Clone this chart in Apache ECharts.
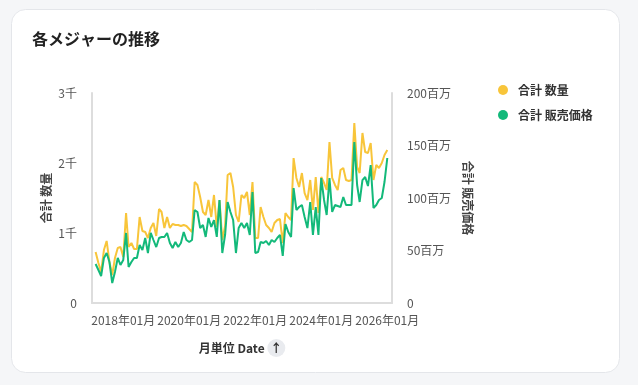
<!DOCTYPE html>
<html><head><meta charset="utf-8">
<script src="https://cdn.jsdelivr.net/npm/echarts@6/dist/echarts.min.js"></script>
<style>html,body{margin:0;padding:0;background:#f5f6f8;}#c{width:638px;height:385px;}</style>
</head><body><div id="c"></div>
<script>
const months = [
'2017-03','2017-04','2017-05','2017-06','2017-07','2017-08','2017-09','2017-10','2017-11','2017-12',
'2018-01','2018-02','2018-03','2018-04','2018-05','2018-06','2018-07','2018-08','2018-09','2018-10','2018-11','2018-12',
'2019-01','2019-02','2019-03','2019-04','2019-05','2019-06','2019-07','2019-08','2019-09','2019-10','2019-11','2019-12',
'2020-01','2020-02','2020-03','2020-04','2020-05','2020-06','2020-07','2020-08','2020-09','2020-10','2020-11','2020-12',
'2021-01','2021-02','2021-03','2021-04','2021-05','2021-06','2021-07','2021-08','2021-09','2021-10','2021-11','2021-12',
'2022-01','2022-02','2022-03','2022-04','2022-05','2022-06','2022-07','2022-08','2022-09','2022-10','2022-11','2022-12',
'2023-01','2023-02','2023-03','2023-04','2023-05','2023-06','2023-07','2023-08','2023-09','2023-10','2023-11','2023-12',
'2024-01','2024-02','2024-03','2024-04','2024-05','2024-06','2024-07','2024-08','2024-09','2024-10','2024-11','2024-12',
'2025-01','2025-02','2025-03','2025-04','2025-05','2025-06','2025-07','2025-08','2025-09','2025-10','2025-11','2025-12',
'2026-01'];
const quantity = [
729,571,443,757,886,586,400,643,786,800,
657,1286,800,857,771,771,1229,1029,1014,929,1071,1143,
957,1343,1300,1071,1229,1071,1129,1114,1114,1100,1114,1100,
1057,1014,1729,1686,1514,1300,1257,1471,1229,1543,1086,1471,
900,1100,1829,1857,1657,1257,1157,1543,1500,1586,1257,1729,
929,929,1371,1229,1114,1071,1014,1143,1186,1200,857,1286,
1229,1186,2071,1786,1657,1857,1571,1471,1757,1329,1800,1286,
1800,1714,1614,2300,1786,1686,1614,1900,1929,1757,1743,1757,
2571,1943,1857,2429,2157,2143,2286,1757,1971,1929,2000,2114,
2186];
const salesPriceMillions = [
37.1,31.4,25.7,42.9,47.6,39.0,19.0,29.5,42.9,36.2,
41.0,66.7,34.3,39.0,42.9,42.9,55.2,50.5,61.9,47.6,66.7,60.0,
53.3,61.9,62.9,62.9,66.7,57.1,52.4,58.1,53.3,57.1,67.6,60.0,
58.1,60.0,88.6,86.7,71.4,74.3,62.9,81.0,72.4,79.0,62.9,98.1,
47.6,64.8,96.2,86.7,79.0,47.6,71.4,76.2,71.4,76.2,64.8,105.7,
47.6,48.6,58.1,57.1,59.0,55.2,60.0,58.1,61.9,64.8,44.8,75.2,
67.6,62.9,109.5,88.6,91.4,93.3,81.9,71.4,96.2,64.8,91.4,64.8,
119.0,98.1,83.8,119.0,86.7,93.3,92.4,91.4,101.0,93.3,93.3,93.3,
153.3,112.4,96.2,117.1,120.0,111.4,131.4,90.5,93.3,98.1,100.0,115.2,
138.1];
const xTickMonths = ['2018-01','2020-01','2022-01','2024-01','2026-01'];
const qtyTicks = [0, 1000, 2000, 3000];
const priceTicks = [0, 50, 100, 150, 200];

const toTime = s => { const p = s.split('-'); return Date.UTC(+p[0], +p[1]-1, 1); };
const FONT = '"Noto Sans CJK JP", "Noto Sans", sans-serif';
const chart = echarts.init(document.getElementById('c'));
chart.setOption({
  animation: false,
  textStyle: { fontFamily: FONT },
  graphic: [{
    type: 'rect', z: -10, silent: true,
    shape: { x: 11.5, y: 9.5, width: 608, height: 363, r: 14 },
    style: { fill: '#ffffff', stroke: '#e4e6ea', lineWidth: 1 }
  }],
  title: {
    text: '各メジャーの推移', left: 27, top: 26,
    textStyle: { fontFamily: FONT, fontSize: 16, fontWeight: 'bold', color: '#222' }
  },
  legend: {
    orient: 'vertical', left: 493, top: 79, itemGap: 13,
    icon: 'circle', itemWidth: 10, itemHeight: 10,
    textStyle: { fontFamily: FONT, fontSize: 12, fontWeight: 'bold', color: '#333', padding: [0, 0, 0, 5] },
    data: ['合計 数量', '合計 販売価格']
  },
  grid: { left: 92, right: 246, top: 93, bottom: 82 },
  xAxis: {
    type: 'value',
    min: Date.UTC(2017, 0, 20),
    max: Date.UTC(2026, 1, 22),
    name: '月単位 Date {arr|↑}',
    nameLocation: 'middle', nameGap: 36,
    nameTextStyle: {
      fontFamily: FONT, fontSize: 12, fontWeight: 'bold', color: '#333',
      rich: { arr: { backgroundColor: '#e9ebef', borderRadius: 9, width: 18, height: 18, align: 'center',
                     fontSize: 12, fontWeight: 'bold', color: '#333', lineHeight: 18 } }
    },
    axisLine: { show: true, onZero: false, lineStyle: { color: '#dddddd', width: 2 } },
    axisTick: { show: false },
    splitLine: { show: false },
    axisLabel: {
      customValues: xTickMonths.map(toTime),
      color: '#555', fontSize: 12, margin: 11, hideOverlap: false,
      formatter: v => { const d = new Date(v); return d.getUTCFullYear() + '年' + String(d.getUTCMonth() + 1).padStart(2, '0') + '月'; }
    }
  },
  yAxis: [{
    type: 'value', min: qtyTicks[0], max: qtyTicks[qtyTicks.length - 1], interval: 1000,
    name: '合計 数量', nameLocation: 'middle', nameGap: 40, nameRotate: 90,
    nameTextStyle: { fontFamily: FONT, fontSize: 12, fontWeight: 'bold', color: '#444' },
    axisLine: { show: true, onZero: false, lineStyle: { color: '#dddddd', width: 2 } },
    axisTick: { show: false }, splitLine: { show: false },
    axisLabel: { color: '#555', fontSize: 12, margin: 15, formatter: v => v === 0 ? '0' : (v / 1000) + '千' }
  }, {
    type: 'value', min: priceTicks[0], max: priceTicks[priceTicks.length - 1], interval: 50,
    name: '合計 販売価格', nameLocation: 'middle', nameGap: 70, nameRotate: -90,
    nameTextStyle: { fontFamily: FONT, fontSize: 12, fontWeight: 'bold', color: '#444' },
    axisLine: { show: true, onZero: false, lineStyle: { color: '#dddddd', width: 2 } },
    axisTick: { show: false }, splitLine: { show: false },
    axisLabel: { color: '#555', fontSize: 12, margin: 15, formatter: v => v === 0 ? '0' : v + '百万' }
  }],
  series: [{
    name: '合計 数量', type: 'line', yAxisIndex: 0, showSymbol: false, symbol: 'circle',
    color: '#f8c53a', lineStyle: { width: 2 },
    data: months.map((m, i) => [toTime(m), quantity[i]])
  }, {
    name: '合計 販売価格', type: 'line', yAxisIndex: 1, showSymbol: false, symbol: 'circle',
    color: '#13b97a', lineStyle: { width: 2 },
    data: months.map((m, i) => [toTime(m), salesPriceMillions[i]])
  }]
});
</script></body></html>
